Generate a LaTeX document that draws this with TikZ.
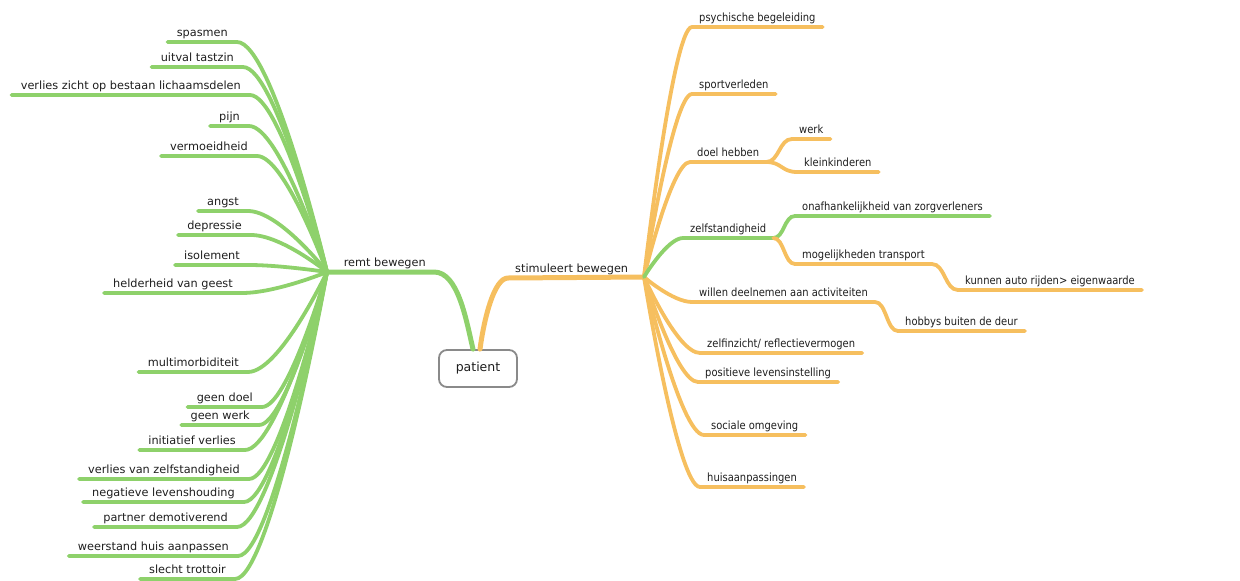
\documentclass[tikz,border=0pt]{standalone}
\usepackage{fontspec}
\setmainfont{DejaVu Sans}
\newfontfamily\narrowfont[FakeStretch=0.88]{DejaVu Sans}
\usetikzlibrary{calc}
\definecolor{mgreen}{HTML}{8ED16B}
\definecolor{morange}{HTML}{F6BF5F}
\definecolor{mtext}{HTML}{1E1E1E}
\definecolor{mgray}{HTML}{8A8A8A}
\tikzset{
  lbl/.style={font=\fontsize{11.3}{13}\selectfont, text=mtext, text depth=0pt, inner ysep=5pt},
  leafL/.style={lbl, anchor=south east, inner xsep=9pt},
  leafR/.style={lbl, font=\narrowfont\fontsize{11.3}{13}\selectfont, anchor=south west, inner xsep=7pt},
  gline/.style={draw=mgreen, line width=3.8pt, line cap=round},
  oline/.style={draw=morange, line width=3.8pt, line cap=round},
  gmain/.style={gline, line width=5pt},
  omain/.style={oline, line width=5pt},
  pbox/.style={draw=mgray, line width=1.8pt, rounded corners=8pt, fill=white,
    minimum width=78pt, minimum height=37pt, font=\fontsize{12.5}{14}\selectfont, text=mtext}
}
\newcommand\brL[3]{\draw[#1] let \p1=(#2), \p2=(#3.south east) in (\p1) .. controls (\p1) and ({\x2+0.4*(\x1-\x2)},\y2) .. (\p2) -- (#3.south west);}
\newcommand\brR[3]{\draw[#1] let \p1=(#2), \p2=(#3.south west) in (\p1) .. controls (\p1) and ({\x2+0.4*(\x1-\x2)},\y2) .. (\p2) -- (#3.south east);}
\newcommand\brS[3]{\draw[#1] let \p1=(#2), \p2=(#3.south west) in (\p1) .. controls ({0.5*(\x1+\x2)},\y1) and ({0.5*(\x1+\x2)},\y2) .. (\p2) -- (#3.south east);}
\begin{document}
\begin{tikzpicture}[x=1pt,y=-1pt]
\useasboundingbox (0,0) rectangle (1240,581);
% hubs
\coordinate (H1) at (327,272);
\coordinate (H2) at (644,277);
% centre
\node[pbox] (patient) at (478,368.5) {patient};
\node[lbl, anchor=south east, inner xsep=8pt] (remt) at (434,272) {remt bewegen};
\node[lbl, anchor=south west, inner xsep=7pt] (stim) at (508,278) {stimuleert bewegen};
% left leaves
\node[leafL] (l1) at (237,42) {spasmen};
\node[leafL] (l2) at (243,67) {uitval tastzin};
\node[leafL] (l3) at (250,95) {verlies zicht op bestaan lichaamsdelen};
\node[leafL] (l4) at (249,126) {pijn};
\node[leafL] (l5) at (257,156) {vermoeidheid};
\node[leafL] (l6) at (248,211) {angst};
\node[leafL] (l7) at (251,235) {depressie};
\node[leafL] (l8) at (249,265) {isolement};
\node[leafL] (l9) at (242,293) {helderheid van geest};
\node[leafL] (l10) at (248,372) {multimorbiditeit};
\node[leafL] (l11) at (262,407) {geen doel};
\node[leafL] (l12) at (259,425) {geen werk};
\node[leafL] (l13) at (245,450) {initiatief verlies};
\node[leafL] (l14) at (249,479) {verlies van zelfstandigheid};
\node[leafL] (l15) at (244,502) {negatieve levenshouding};
\node[leafL] (l16) at (237,527) {partner demotiverend};
\node[leafL] (l17) at (238,556) {weerstand huis aanpassen};
\node[leafL] (l18) at (235,579) {slecht trottoir};
% right leaves
\node[leafR] (r1) at (692,27) {psychische begeleiding};
\node[leafR] (r2) at (692,94) {sportverleden};
\node[leafR] (r3) at (690,162) {doel hebben};
\node[leafR] (r4) at (683,238) {zelfstandigheid};
\node[leafR] (r5) at (692,302) {willen deelnemen aan activiteiten};
\node[leafR] (r6) at (700,353) {zelfinzicht/ reflectievermogen};
\node[leafR] (r7) at (698,382) {positieve levensinstelling};
\node[leafR] (r8) at (704,435) {sociale omgeving};
\node[leafR] (r9) at (700,487) {huisaanpassingen};
% sub leaves
\node[leafR] (s1) at (792,139) {werk};
\node[leafR] (s2) at (797,172) {kleinkinderen};
\node[leafR] (s3) at (795,216) {onafhankelijkheid van zorgverleners};
\node[leafR] (s4) at (795,264) {mogelijkheden transport};
\node[leafR] (s5) at (958,290) {kunnen auto rijden> eigenwaarde};
\node[leafR] (s6) at (898,331) {hobbys buiten de deur};
% main connectors
\draw[gmain] (H1) -- (remt.south east) .. controls ($(remt.south east)+(24,0)$) and ($(patient.north)+(-12,-30)$) .. ($(patient.north)+(-5,0)$);
\draw[omain] ($(patient.north)+(2,0)$) .. controls ($(patient.north)+(6,-30)$) and ($(stim.south west)+(-14,0)$) .. (stim.south west) -- (H2);
% left branches
\foreach \lf in {l1,l2,l3,l4,l5,l6,l7,l8,l9,l10,l11,l12,l13,l14,l15,l16,l17,l18}{\brL{gline}{H1}{\lf}}
% right branches
\foreach \lf in {r1,r2,r3,r5,r6,r7,r8,r9}{\brR{oline}{H2}{\lf}}
\brR{gline}{H2}{r4}
\brS{oline}{r3.south east}{s1}
\brS{oline}{r3.south east}{s2}
\brS{gline}{r4.south east}{s3}
\brS{oline}{r4.south east}{s4}
\brS{oline}{s4.south east}{s5}
\brS{oline}{r5.south east}{s6}
\end{tikzpicture}
\end{document}
